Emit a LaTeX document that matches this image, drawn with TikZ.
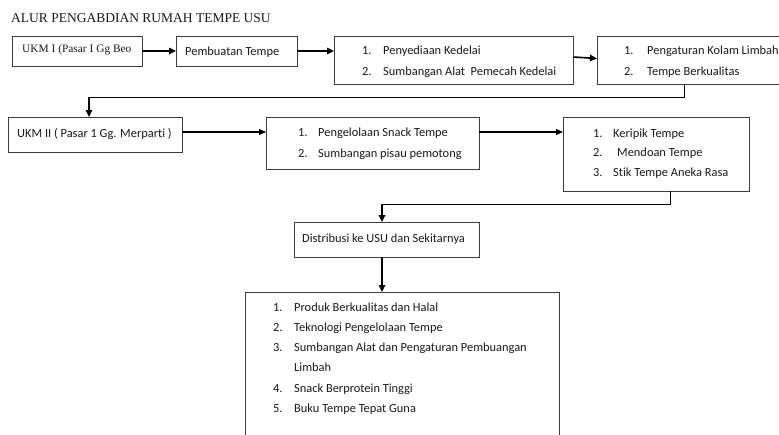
\documentclass[tikz,border=0pt]{standalone}
\usepackage{fontspec}
\setmainfont{Carlito}[Ligatures={NoCommon}]
\newfontfamily\timesf{Liberation Serif}
\usetikzlibrary{arrows.meta,calc}
\definecolor{boxgray}{RGB}{60,60,60}
\definecolor{txtc}{RGB}{25,25,25}
\begin{document}
\begin{tikzpicture}[x=1pt,y=-1pt,
  box/.style={draw=boxgray, line width=0.9pt, anchor=north west, inner sep=0pt, outer sep=0pt},
  txt/.style={anchor=base west, inner sep=0pt, font=\fontsize{12.4}{14}\selectfont, text=txtc},
  sertxt/.style={anchor=base west, inner sep=0pt, text=txtc},
  thickarr/.style={line width=1.6pt, -{Triangle[length=7pt,width=6.5pt]}},
  thinarr/.style={line width=1.1pt, -{Triangle[length=7pt,width=6pt]}},
  conn/.style={line width=0.9pt}]
\useasboundingbox (0,0) rectangle (779,434);
\clip (0,0) rectangle (779,434);

% title
\node[sertxt, font=\timesf\fontsize{13.5}{16}\selectfont] (title) at (11,22) {ALUR PENGABDIAN RUMAH TEMPE USU};

% boxes
\node[box, minimum width=130pt, minimum height=30pt] (ukm1) at (12,36) {};
\node[box, minimum width=121pt, minimum height=30pt] (pemb) at (176,36) {};
\node[box, minimum width=239pt, minimum height=48pt] (b3) at (334,36) {};
\node[box, minimum width=185pt, minimum height=48pt] (b4) at (597,36) {};
\node[box, minimum width=174pt, minimum height=35pt] (ukm2) at (8,117) {};
\node[box, minimum width=213pt, minimum height=52pt] (b6) at (266,117) {};
\node[box, minimum width=186pt, minimum height=74pt] (b7) at (563,117) {};
\node[box, minimum width=185pt, minimum height=35pt] (b8) at (294,222) {};
\node[box, minimum width=314pt, minimum height=160pt] (b9) at (245,292) {};

% texts
\node[sertxt, font=\timesf\fontsize{11.4}{13}\selectfont] (t1) at (22,52) {UKM I (Pasar I Gg Beo};
\node[txt] (t2) at (185,55) {Pembuatan Tempe};

\node[txt] (t3a) at (362,54) {1.};
\node[txt] (t3b) at (383,54) {Penyediaan Kedelai};
\node[txt] (t3c) at (362,75) {2.};
\node[txt] (t3d) at (383,75) {Sumbangan Alat\ \ Pemecah Kedelai};

\node[txt] (t4a) at (624,54) {1.};
\node[txt] (t4b) at (647,54) {Pengaturan Kolam Limbah};
\node[txt] (t4c) at (624,75) {2.};
\node[txt] (t4d) at (647,75) {Tempe Berkualitas};

\node[txt] (t5) at (17,137) {UKM II ( Pasar 1 Gg. Merparti )};

\node[txt] (t6a) at (298,136) {1.};
\node[txt] (t6b) at (318,136) {Pengelolaan Snack Tempe};
\node[txt] (t6c) at (298,157) {2.};
\node[txt] (t6d) at (318,157) {Sumbangan pisau pemotong};

\node[txt] (t7a) at (593,137) {1.};
\node[txt] (t7b) at (613,137) {Keripik Tempe};
\node[txt] (t7c) at (593,156.5) {2.};
\node[txt] (t7d) at (617,156.5) {Mendoan Tempe};
\node[txt] (t7e) at (593,176) {3.};
\node[txt] (t7f) at (613,176) {Stik Tempe Aneka Rasa};

\node[txt] (t8) at (302,242) {Distribusi ke USU dan Sekitarnya};

\node[txt] (t9a) at (273,311) {1.};
\node[txt] (t9b) at (294,311) {Produk Berkualitas dan Halal};
\node[txt] (t9c) at (273,331.3) {2.};
\node[txt] (t9d) at (294,331.3) {Teknologi Pengelolaan Tempe};
\node[txt] (t9e) at (273,351.6) {3.};
\node[txt] (t9f) at (294,351.6) {Sumbangan Alat dan Pengaturan Pembuangan};
\node[txt] (t9g) at (294,371.9) {Limbah};
\node[txt] (t9h) at (273,392.2) {4.};
\node[txt] (t9i) at (294,392.2) {Snack Berprotein Tinggi};
\node[txt] (t9j) at (273,412.5) {5.};
\node[txt] (t9k) at (294,412.5) {Buku Tempe Tepat Guna};

% row 1 arrows
\draw[thickarr] (ukm1.east) -- (pemb.west);
\draw[thickarr] (pemb.east) -- (pemb.east -| b3.west);
\draw[thickarr] ([yshift=3pt]b3.east) -- ([yshift=1.5pt]b4.west);

% connector to row 2
\coordinate (j1) at (684,97);
\coordinate (j2) at (89,97);
\draw[conn] (b4.south -| j1) -- (j1) -- (j2);
\draw[thickarr] (j2) -- (j2 |- ukm2.north);

% row 2 arrows
\coordinate (r2) at (0,132);
\draw[thinarr] (ukm2.east |- r2) -- (b6.west |- r2);
\draw[thinarr] (b6.east |- r2) -- (b7.west |- r2);

% connector to distribution
\coordinate (j3) at (670,204);
\coordinate (j4) at (382,204);
\draw[conn] (b7.south -| j3) -- (j3) -- (j4);
\draw[thickarr] (j4) -- (j4 |- b8.north);
\draw[thickarr] (b8.south -| j4) -- (j4 |- b9.north);
\end{tikzpicture}
\end{document}
